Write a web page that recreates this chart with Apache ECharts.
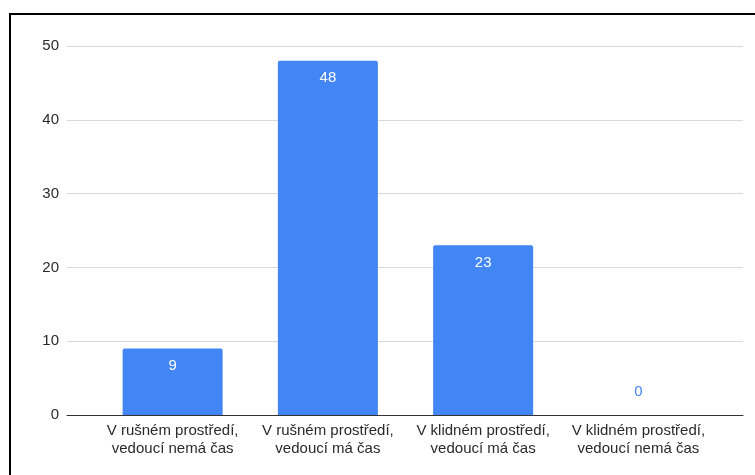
<!DOCTYPE html>
<html><head><meta charset="utf-8">
<script src="https://cdn.jsdelivr.net/npm/echarts@6/dist/echarts.min.js"></script>
<style>html,body{margin:0;padding:0;background:#fff}#c{width:755px;height:475px}</style>
</head><body><div id="c"></div>
<script>
const categories = ['V rušném prostředí,\nvedoucí nemá čas', 'V rušném prostředí,\nvedoucí má čas', 'V klidném prostředí,\nvedoucí má čas', 'V klidném prostředí,\nvedoucí nemá čas'];
const values = [9, 48, 23, 0];
const yTicks = [0, 10, 20, 30, 40, 50];

const chart = echarts.init(document.getElementById('c'));
const font = '"Liberation Sans", Arial, sans-serif';
chart.setOption({
  animation: false,
  graphic: [{
    type: 'rect', silent: true, z: 100,
    shape: { x: 10, y: 14, width: 800, height: 520 },
    style: { fill: 'none', stroke: '#000', lineWidth: 2 }
  }],
  grid: [
    { left: 67, right: 12, top: 46, bottom: 60 },
    { left: 95, right: 39, top: 46, bottom: 60 }
  ],
  xAxis: [
    { gridIndex: 0, type: 'value', min: 0, max: 1, show: true,
      axisLine: { show: true, onZero: true, lineStyle: { color: '#333', width: 1 } },
      axisTick: { show: false }, axisLabel: { show: false }, splitLine: { show: false } },
    { gridIndex: 1, type: 'category', data: categories,
      axisLine: { show: false }, axisTick: { show: false },
      axisLabel: { color: '#2a2a2a', fontSize: 15, fontFamily: font, lineHeight: 18, margin: 7, interval: 0 } }
  ],
  yAxis: [
    { gridIndex: 0, type: 'value', min: yTicks[0], max: yTicks[yTicks.length - 1], interval: 10,
      axisLine: { show: false }, axisTick: { show: false },
      axisLabel: { color: '#2a2a2a', fontSize: 15, fontFamily: font, margin: 8 },
      splitLine: { lineStyle: { color: '#d9d9d9', width: 1 } } },
    { gridIndex: 1, type: 'value', min: yTicks[0], max: yTicks[yTicks.length - 1], interval: 10,
      show: false, splitLine: { show: false } }
  ],
  series: [{
    type: 'bar', xAxisIndex: 1, yAxisIndex: 1,
    barWidth: 100,
    itemStyle: { color: '#4285f4', borderRadius: [2, 2, 0, 0] },
    label: { show: true, position: 'insideTop', distance: 10, color: '#fff', fontSize: 15, fontFamily: font },
    data: values.map(v => v === 0
      ? { value: v, label: { position: 'top', distance: 16, color: '#4285f4' } }
      : v)
  }]
});
</script></body></html>
